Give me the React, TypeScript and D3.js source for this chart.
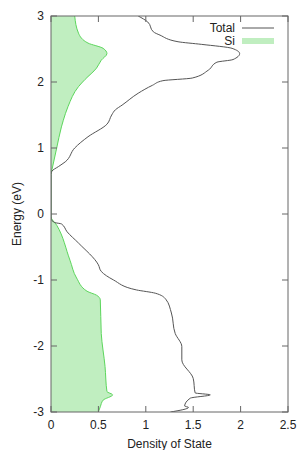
import * as d3 from "d3"

// Energy (eV) and density of state
const totalEnergy = [
  3.0, 2.91, 2.76, 2.71, 2.61, 2.57, 2.51, 2.43, 2.34, 2.3, 2.18, 2.06, 2.02, 1.95,
  1.83, 1.65, 1.58, 1.5, 1.36, 1.17, 1.0, 0.79, 0.72, 0.65, 0.6, 0.0, -0.07, -0.13,
  -0.15, -0.27, -0.44, -0.77, -0.87, -1.0, -1.15, -1.2, -1.29, -1.5, -1.81, -2.01,
  -2.21, -2.49, -2.71, -2.74, -2.79, -2.91, -2.93, -3.0,
]
const totalDos = [
  0.92, 1.02, 1.08, 1.15, 1.34, 1.59, 1.91, 1.99, 1.92, 1.75, 1.66, 1.49, 1.18, 1.07,
  0.92, 0.75, 0.68, 0.64, 0.59, 0.39, 0.25, 0.15, 0.08, 0.01, 0, 0, 0, 0.04,
  0.11, 0.17, 0.29, 0.5, 0.53, 0.66, 0.9, 1.1, 1.21, 1.27, 1.31, 1.38,
  1.38, 1.5, 1.52, 1.68, 1.47, 1.41, 1.45, 1.26,
]

const siEnergy = [
  3.0, 2.74, 2.59, 2.51, 2.43, 2.33, 2.21, 2.04, 1.93, 1.63, 1.42, 1.32, 1.0, 0.67,
  0.6, 0.0, -0.04, -0.17, -0.7, -0.97, -1.17, -1.23, -1.3, -1.81, -2.31, -2.69,
  -2.74, -2.82, -2.92, -3.0,
]
const siDos = [
  0.25, 0.29, 0.39, 0.55, 0.59, 0.53, 0.48, 0.36, 0.29, 0.18, 0.13, 0.11, 0.06, 0.01,
  0, 0, 0, 0.06, 0.2, 0.27, 0.38, 0.48, 0.52, 0.53, 0.57, 0.59,
  0.65, 0.55, 0.52, 0.5,
]

const xTicks = [0, 0.5, 1, 1.5, 2, 2.5]
const yTicks = [-3, -2, -1, 0, 1, 2, 3]

const W = 304
const H = 450
const margin = { top: 16, right: 16, bottom: 38, left: 51 }
const font = "'Liberation Sans', Arial, sans-serif"

export default function App() {
  const x = d3.scaleLinear().domain([0, 2.5]).range([margin.left, W - margin.right])
  const y = d3.scaleLinear().domain([-3, 3]).range([H - margin.bottom, margin.top])

  const total = totalEnergy.map((e, i) => ({ e, d: totalDos[i] }))
  const si = siEnergy.map((e, i) => ({ e, d: siDos[i] }))

  const line = d3
    .line<{ e: number; d: number }>()
    .curve(d3.curveMonotoneY)
    .x(p => x(p.d))
    .y(p => y(p.e))

  const area = d3
    .area<{ e: number; d: number }>()
    .curve(d3.curveMonotoneY)
    .y(p => y(p.e))
    .x0(x(0))
    .x1(p => x(p.d))

  const [x0, x1] = x.range()
  const [y0, y1] = y.range()
  const tick = 6
  const axisColor = "#666"

  return (
    <svg
      width={W}
      height={H}
      style={{ position: "absolute", left: 0, top: 0, background: "#fff" }}
      fontFamily={font}
      fontSize={12}
    >
      <defs>
        <clipPath id="plot">
          <rect x={x0} y={y1} width={x1 - x0} height={y0 - y1} />
        </clipPath>
      </defs>

      <g clipPath="url(#plot)">
        <path d={area(si) ?? ""} fill="#c0eec0" />
        <path d={line(si) ?? ""} fill="none" stroke="#5cd65c" strokeWidth={1} />
        <path d={line(total) ?? ""} fill="none" stroke="#555" strokeWidth={1} />
      </g>

      {/* frame */}
      <rect x={x0} y={y1} width={x1 - x0} height={y0 - y1} fill="none" stroke={axisColor} strokeWidth={1} />

      {/* x ticks */}
      {xTicks.map(t => (
        <g key={"x" + t}>
          <line x1={x(t)} x2={x(t)} y1={y0} y2={y0 - tick} stroke={axisColor} />
          <line x1={x(t)} x2={x(t)} y1={y1} y2={y1 + tick} stroke={axisColor} />
          <text x={x(t)} y={y0 + 17} textAnchor="middle" fill="#222">
            {t}
          </text>
        </g>
      ))}

      {/* y ticks */}
      {yTicks.map(t => (
        <g key={"y" + t}>
          <line x1={x0} x2={x0 + tick} y1={y(t)} y2={y(t)} stroke={axisColor} />
          <line x1={x1} x2={x1 - tick} y1={y(t)} y2={y(t)} stroke={axisColor} />
          <text x={x0 - 7} y={y(t) + 4} textAnchor="end" fill="#222">
            {t}
          </text>
        </g>
      ))}

      {/* axis titles */}
      <text x={(x0 + x1) / 2} y={H - 2} textAnchor="middle" fill="#222">
        Density of State
      </text>
      <text
        transform={`translate(21,${(y0 + y1) / 2}) rotate(-90)`}
        textAnchor="middle"
        fill="#222"
      >
        Energy (eV)
      </text>

      {/* legend */}
      <text x={235} y={32} textAnchor="end" fill="#222">
        Total
      </text>
      <line x1={242} x2={274} y1={28} y2={28} stroke="#555" />
      <text x={235} y={45} textAnchor="end" fill="#222">
        Si
      </text>
      <rect x={242} y={38} width={32} height={6} fill="#c0eec0" />
    </svg>
  )
}
